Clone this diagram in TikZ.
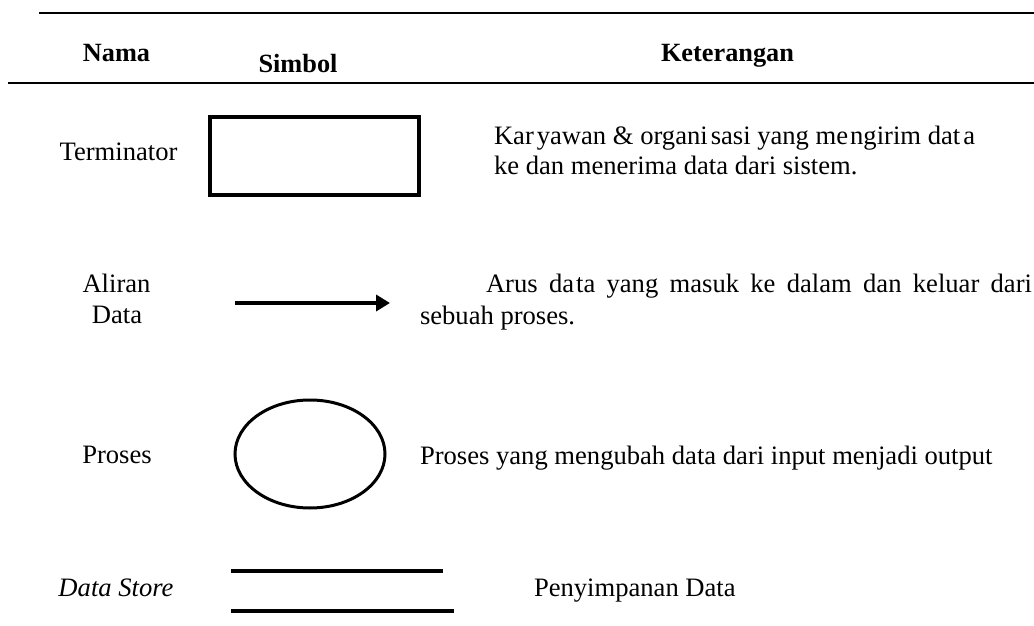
\documentclass[tikz,border=0pt]{standalone}
\usepackage{fontspec}
\setmainfont{Liberation Serif}
\usetikzlibrary{arrows.meta,shapes.geometric}

\tikzset{
  txt/.style={inner sep=0pt, outer sep=0pt, font=\fontsize{26.6bp}{30bp}\selectfont},
  head/.style={txt, font=\fontsize{26.3bp}{30bp}\selectfont\bfseries},
  rule/.style={line width=2.2bp},
  symline/.style={line width=4bp},
}

\begin{document}
\begin{tikzpicture}[x=1bp,y=-1bp]
  \useasboundingbox (0,0) rectangle (1034,626);

  % header rules
  \coordinate (t1) at (39,13);   \coordinate (t2) at (1034,13);
  \coordinate (h1) at (8,83);    \coordinate (h2) at (1034,83);
  \draw[rule] (t1) -- (t2);
  \draw[rule] (h1) -- (h2);

  % column headings
  \node[head, anchor=base] (hnama) at (116.5,62) {Nama};
  \node[head, anchor=base] (hsimbol) at (298,73) {Simbol};
  \node[head, anchor=base] (hket) at (727.5,62) {Keterangan};

  % row 1: terminator
  \node[txt, anchor=base] (nterm) at (118.5,161) {Terminator};
  \node[draw, line width=4bp, minimum width=209bp, minimum height=78bp,
        inner sep=0pt] (sterm) at (314.5,156) {};
  \node[txt, anchor=base west] (kterm1) at (494,145)
    {Kar\kern3bp yawan \& organi\kern3bp sasi yang me\kern2bp ngirim dat\kern3bp a};
  \node[txt, anchor=base west] (kterm2) at (494,175)
    {ke dan menerima data dari sistem.};

  % row 2: data flow
  \node[txt, anchor=base] (nflow1) at (116.5,293) {Aliran};
  \node[txt, anchor=base] (nflow2) at (117,323) {Data};
  \coordinate (fa) at (235,303);
  \coordinate (fb) at (390,303);
  \draw[symline, -{Triangle[length=14bp,width=16bp]}] (fa) -- (fb);
  \node[txt, anchor=base west] (kflow1) at (486,293)
    {\hbox to 546bp{Arus\hfill da\kern2bp ta\hfill yang\hfill masuk\hfill ke\hfill dalam\hfill dan\hfill keluar\hfill dari}};
  \node[txt, anchor=base west] (kflow2) at (420,324) {sebuah proses.};

  % row 3: process
  \node[txt, anchor=base] (nproc) at (117,463) {Proses};
  \node[draw, ellipse, line width=3bp, minimum width=150bp, minimum height=108bp,
        inner sep=0pt] (sproc) at (310,454) {};
  \node[txt, anchor=base west] (kproc) at (420,464)
    {Proses yang mengubah data dari input menjadi output};

  % row 4: data store
  \node[txt, anchor=base] (nstore) at (116,596) {\itshape Data Store};
  \coordinate (s1a) at (231,571); \coordinate (s1b) at (443,571);
  \coordinate (s2a) at (231,611); \coordinate (s2b) at (454,611);
  \draw[symline] (s1a) -- (s1b);
  \draw[symline] (s2a) -- (s2b);
  \node[txt, anchor=base west] (kstore) at (534,596) {Penyimpanan Data};
\end{tikzpicture}
\end{document}
